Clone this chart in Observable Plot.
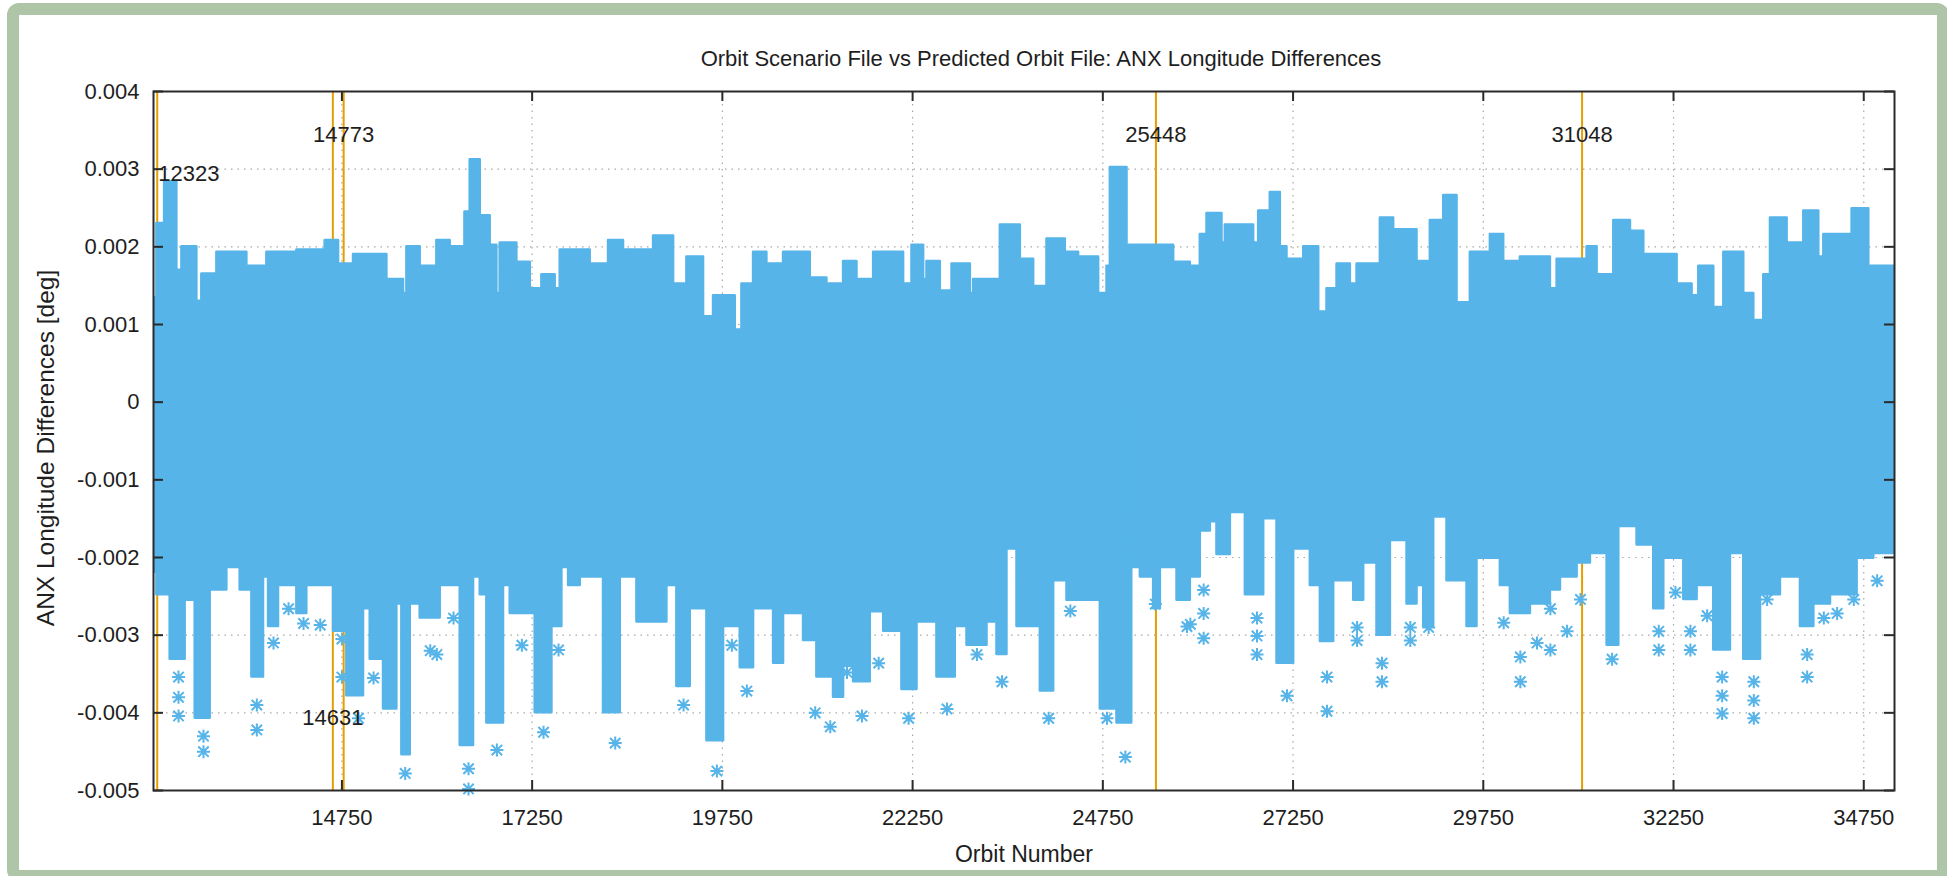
<!DOCTYPE html>
<html>
<head>
<meta charset="utf-8">
<script src="https://cdn.jsdelivr.net/npm/d3@7"></script>
<script src="https://cdn.jsdelivr.net/npm/@observablehq/plot@0.6"></script>
<style>
  html, body { margin: 0; padding: 0; background: #ffffff; }
  #wrap { position: relative; width: 1947px; height: 876px; overflow: hidden; background: #ffffff; }
  #frame { position: absolute; left: 7px; top: 3px; right: -2px; bottom: -6px;
           border: 12px solid #aec5a8; border-radius: 12px; pointer-events: none; }
  #chart { position: absolute; left: 0; top: 0; }
</style>
</head>
<body>
<div id="wrap"><div id="chart"></div><div id="frame"></div></div>
<script>
// ---- Texts ----
const titleText = "Orbit Scenario File vs Predicted Orbit File: ANX Longitude Differences";
const xLabel = "Orbit Number";
const yLabel = "ANX Longitude Differences [deg]";

// ---- Axis ticks ----
const xTicks = [14750, 17250, 19750, 22250, 24750, 27250, 29750, 32250, 34750];
const yTicks = [-0.005, -0.004, -0.003, -0.002, -0.001, 0, 0.001, 0.002, 0.003, 0.004];
const xDomain = [12274, 35154];

// ---- Marked orbits (vertical lines) and their labels ----
const eventOrbits = [12323, 14631, 14773, 25448, 31048];
const labelOrbit  = [12323, 14773, 14631, 25448, 31048];
const labelValue  = [0.003, 0.0035, -0.004, 0.0035, 0.0035];
const labelText   = ["12323", "14773", "14631", "25448", "31048"];
const labelAlign  = ["start", "middle", "middle", "middle", "middle"];

// ---- Upper envelope of the dense point cloud (step breakpoints) ----
const upperOrbit = [12274,12318,12420,12581,12647,12844,12909,13107,13501,13764,14158,14530,14706,14903,15341,15560,15604,15779,15998,16173,16367,16436,16568,16699,16787,16830,17049,17225,17378,17553,17619,18013,18254,18451,18846,19109,19284,19503,19634,19919,20007,20160,20335,20554,20905,21124,21343,21519,21738,22132,22242,22395,22439,22614,22768,23009,23052,23403,23666,23841,24016,24257,24432,24695,24805,24849,25068,25080,25081,25098,25681,25900,26031,26119,26316,26360,26732,26798,26951,27083,27170,27390,27587,27696,27828,28003,28091,28397,28572,28879,29054,29230,29405,29580,29843,30018,30237,30632,30720,31114,31246,31465,31684,31859,32297,32494,32582,32779,32911,33173,33305,33436,33524,33743,33962,34159,34225,34597,34816,35154];
const upperValue = [0.00134,0.0023,0.00284,0.0017,0.002,0.0013,0.00165,0.00193,0.00175,0.00193,0.00196,0.00208,0.00178,0.0019,0.00158,0.0014,0.002,0.00175,0.00208,0.002,0.00245,0.00312,0.0024,0.00202,0.0014,0.00205,0.0018,0.00146,0.00164,0.00146,0.00196,0.00178,0.00208,0.00196,0.00214,0.00152,0.00187,0.0011,0.00137,0.00093,0.00152,0.00193,0.00178,0.00193,0.0016,0.00152,0.00181,0.00158,0.00193,0.00152,0.00202,0.00158,0.00181,0.00143,0.00178,0.0014,0.00158,0.00228,0.00184,0.00149,0.0021,0.00193,0.00187,0.0014,0.00175,0.00302,0.001,0.001,NaN,0.00202,0.0018,0.00175,0.00216,0.00243,0.00205,0.00228,0.00205,0.00246,0.0027,0.002,0.00184,0.002,0.00116,0.00146,0.00178,0.00152,0.00178,0.00237,0.00222,0.00181,0.00234,0.00266,0.00128,0.00193,0.00216,0.00181,0.00187,0.00146,0.00184,0.002,0.00164,0.00234,0.0022,0.0019,0.00152,0.00137,0.00175,0.00122,0.00193,0.0014,0.00105,0.00164,0.00237,0.00205,0.00246,0.00187,0.00216,0.00249,0.00175,0.00175];

// ---- Lower envelope of the dense point cloud (step breakpoints) ----
const lowerOrbit = [12274,12318,12493,12690,12822,13019,13238,13413,13567,13720,13786,13917,14158,14289,14640,14815,15034,15122,15297,15472,15538,15648,15779,16042,16305,16480,16568,16655,16874,16962,17290,17510,17641,17729,17882,18188,18408,18627,19021,19152,19328,19547,19766,19985,20160,20423,20554,20817,20992,21211,21343,21475,21694,21870,22110,22308,22570,22811,22965,23228,23359,23490,23622,23929,24104,24279,24717,24936,25130,25131,25148,25243,25418,25506,25725,25900,26031,26163,26250,26426,26623,26864,27039,27258,27477,27609,27784,28047,28178,28353,28529,28748,28879,28967,29098,29273,29536,29667,29974,30106,30369,30632,30764,30983,31158,31377,31531,31771,31990,32122,32385,32560,32779,32998,33173,33393,33655,33918,34094,34313,34663,34882,35154];
const lowerValue = [-0.00219,-0.00248,-0.00331,-0.00255,-0.00407,-0.00242,-0.00213,-0.00242,-0.00354,-0.00225,-0.00289,-0.00236,-0.00272,-0.00236,-0.00295,-0.00378,-0.00266,-0.00331,-0.00395,-0.0026,-0.00454,-0.0026,-0.00278,-0.00236,-0.00442,-0.00225,-0.00248,-0.00413,-0.00236,-0.00272,-0.004,-0.00289,-0.00213,-0.00236,-0.00225,-0.004,-0.00225,-0.00283,-0.00236,-0.00366,-0.00266,-0.00436,-0.00289,-0.00342,-0.00266,-0.00336,-0.00272,-0.00307,-0.00354,-0.0038,-0.0034,-0.0036,-0.0027,-0.00295,-0.0037,-0.00283,-0.00354,-0.00289,-0.00313,-0.00283,-0.00325,-0.00189,-0.00289,-0.00372,-0.0023,-0.00255,-0.00395,-0.00413,-0.00413,NaN,-0.00213,-0.00225,-0.00266,-0.00213,-0.00255,-0.00225,-0.00166,-0.00154,-0.00196,-0.00142,-0.00248,-0.0015,-0.00336,-0.00189,-0.00236,-0.00308,-0.0023,-0.00255,-0.00207,-0.003,-0.00178,-0.0026,-0.00236,-0.00289,-0.00148,-0.0023,-0.00289,-0.00201,-0.00236,-0.00272,-0.0026,-0.00242,-0.00225,-0.00207,-0.00195,-0.00313,-0.0016,-0.00184,-0.00266,-0.00201,-0.00254,-0.00236,-0.00319,-0.00195,-0.00331,-0.00248,-0.00225,-0.00289,-0.0026,-0.00248,-0.00201,-0.00195,-0.00195];

// ---- Isolated points below the cloud ----
const outlierOrbit = [12603,12603,12603,12931,12931,13632,13632,13851,14049,14246,14465,14750,14750,14968,15166,15582,15911,15998,16217,16414,16414,16787,17115,17400,17597,18342,19240,19678,19875,20072,20970,21168,21388,21585,21804,22198,22702,23096,23425,24038,24323,24805,25046,25440,25856,25900,26075,26075,26075,26776,26776,26776,27170,27696,27696,28091,28091,28419,28419,28791,28791,29032,30018,30237,30237,30456,30632,30632,30851,31027,31443,32056,32056,32275,32472,32472,32692,32889,32889,32889,33305,33305,33305,33480,34006,34006,34225,34400,34619,34926];
const outlierValue = [-0.00354,-0.0038,-0.00404,-0.0043,-0.0045,-0.0039,-0.00422,-0.0031,-0.00266,-0.00285,-0.00287,-0.00305,-0.00354,-0.00407,-0.00355,-0.00478,-0.0032,-0.00325,-0.00278,-0.00472,-0.00498,-0.00448,-0.00313,-0.00425,-0.00319,-0.00439,-0.0039,-0.00475,-0.00313,-0.00372,-0.004,-0.00418,-0.00348,-0.00404,-0.00336,-0.00407,-0.00395,-0.00325,-0.0036,-0.00407,-0.00269,-0.00407,-0.00457,-0.0026,-0.00289,-0.00286,-0.00242,-0.00272,-0.00304,-0.00278,-0.00301,-0.00325,-0.00378,-0.00354,-0.00398,-0.0029,-0.00307,-0.00336,-0.0036,-0.0029,-0.00307,-0.0029,-0.00284,-0.00328,-0.0036,-0.0031,-0.00266,-0.00319,-0.00295,-0.00254,-0.00331,-0.00295,-0.00319,-0.00245,-0.00295,-0.00319,-0.00275,-0.00354,-0.00378,-0.00401,-0.0036,-0.00384,-0.00407,-0.00254,-0.00325,-0.00354,-0.00278,-0.00272,-0.00254,-0.0023];

// ---- tables built from the arrays ----
const upper = upperOrbit.map((o, i) => ({orbit: o, value: upperValue[i]}));
const lower = lowerOrbit.map((o, i) => ({orbit: o, value: lowerValue[i]}));
const outliers = outlierOrbit.map((o, i) => ({orbit: o, value: outlierValue[i]}));
const labels = labelOrbit.map((o, i) => ({orbit: o, value: labelValue[i], text: labelText[i], align: labelAlign[i]}));

const BLUE = "#56b4e9";
const ORANGE = "#e69f00";
const INK = "#1e1e1e";
const FONT = "'Liberation Sans', Arial, Helvetica, sans-serif";

// gnuplot-like asterisk (plus + cross)
const gnuStar = {
  draw(ctx, size) {
    const r = Math.sqrt(size / Math.PI);
    const d = r * 0.8;
    ctx.moveTo(-r, 0); ctx.lineTo(r, 0);
    ctx.moveTo(0, -r); ctx.lineTo(0, r);
    ctx.moveTo(-d, -d); ctx.lineTo(d, d);
    ctx.moveTo(-d, d); ctx.lineTo(d, -d);
  }
};

const W = 1947, H = 876, ML = 153, MR = 53, MT = 91, MB = 86;
const PW = W - ML - MR, PH = H - MT - MB, TICK = 10;
const yFmt = d => d === 0 ? "0" : d.toFixed(3);

const chart = Plot.plot({
  width: W, height: H,
  marginLeft: ML, marginRight: MR, marginTop: MT, marginBottom: MB,
  style: {fontFamily: FONT, background: "transparent", color: INK},
  x: {domain: xDomain, axis: null},
  y: {domain: [-0.005, 0.004], axis: null},
  marks: [
    // grid
    Plot.ruleX(xTicks, {x: d => d, stroke: "#a8a8a8", strokeWidth: 1.2, strokeDasharray: "1.5,5"}),
    Plot.ruleY(yTicks, {y: d => d, stroke: "#a8a8a8", strokeWidth: 1.2, strokeDasharray: "1.5,5"}),
    // event lines
    Plot.ruleX(eventOrbits, {x: d => d, stroke: ORANGE, strokeWidth: 2}),
    // dense cloud
    Plot.areaY(upper, {x: "orbit", y1: 0, y2: "value", curve: "step-after", fill: BLUE, stroke: BLUE, strokeWidth: 2.5, strokeLinejoin: "round", clip: true}),
    Plot.areaY(lower, {x: "orbit", y1: "value", y2: 0, curve: "step-after", fill: BLUE, stroke: BLUE, strokeWidth: 2.5, strokeLinejoin: "round", clip: true}),
    Plot.dot(outliers, {x: "orbit", y: "value", symbol: gnuStar, r: 6.5, fill: "none", stroke: BLUE, strokeWidth: 2}),
    // event labels
    Plot.text(labels.filter(d => d.align === "start"), {x: "orbit", y: "value", text: "text", textAnchor: "start", dx: 1, dy: 5, fontSize: 22, fill: INK}),
    Plot.text(labels.filter(d => d.align === "middle"), {x: "orbit", y: "value", text: "text", textAnchor: "middle", dy: 5, fontSize: 22, fill: INK}),
    // frame and inward ticks
    Plot.frame({stroke: "#2a2a2a", strokeWidth: 2}),
    Plot.tickY(yTicks, {y: d => d, insetRight: PW - TICK, stroke: "#2a2a2a", strokeWidth: 2}),
    Plot.tickY(yTicks, {y: d => d, insetLeft: PW - TICK, stroke: "#2a2a2a", strokeWidth: 2}),
    Plot.tickX(xTicks, {x: d => d, insetTop: PH - TICK, stroke: "#2a2a2a", strokeWidth: 2}),
    Plot.tickX(xTicks, {x: d => d, insetBottom: PH - TICK, stroke: "#2a2a2a", strokeWidth: 2}),
    // tick labels
    Plot.text(xTicks, {x: d => d, frameAnchor: "bottom", dy: 34, text: d => String(d), fontSize: 22, fill: INK}),
    Plot.text(yTicks, {y: d => d, frameAnchor: "left", dx: -14, textAnchor: "end", text: yFmt, fontSize: 22, fill: INK}),
    // titles
    Plot.text([titleText], {frameAnchor: "top", dx: 17, dy: -41, textAnchor: "middle", text: d => d, fontSize: 22, fill: INK}),
    Plot.text([xLabel], {frameAnchor: "bottom", dy: 71, textAnchor: "middle", text: d => d, fontSize: 23, fill: INK}),
    Plot.text([yLabel], {frameAnchor: "left", dx: -107, dy: 7, rotate: -90, textAnchor: "middle", text: d => d, fontSize: 24.5, fill: INK})
  ]
});
document.getElementById("chart").appendChild(chart);
</script>
</body>
</html>
